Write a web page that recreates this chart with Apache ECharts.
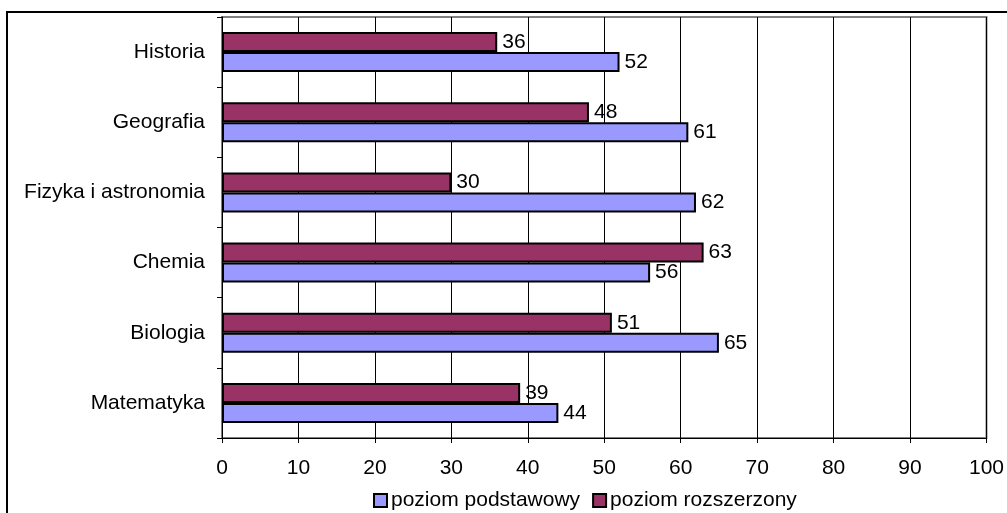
<!DOCTYPE html>
<html>
<head>
<meta charset="utf-8">
<script src="https://cdn.jsdelivr.net/npm/echarts@6/dist/echarts.min.js"></script>
<style>
html,body{margin:0;padding:0;background:#fff;}
#chart{width:1007px;height:513px;}
</style>
</head>
<body>
<div id="chart"></div>
<script>
const categories = ['Matematyka', 'Biologia', 'Chemia', 'Fizyka i astronomia', 'Geografia', 'Historia'];
const podstawowy = [44, 65, 56, 62, 61, 52];
const rozszerzony = [39, 51, 63, 30, 48, 36];
const xTicks = [0, 10, 20, 30, 40, 50, 60, 70, 80, 90, 100];
const seriesNames = ['poziom podstawowy', 'poziom rozszerzony'];

const FONT = "'Liberation Sans', Arial, sans-serif";
const chart = echarts.init(document.getElementById('chart'), null, {renderer: 'canvas'});

const labelStyle = {
  show: true, position: 'right', distance: 5,
  color: '#000', fontSize: 21, fontFamily: FONT
};

chart.setOption({
  animation: false,
  backgroundColor: '#fff',
  textStyle: {fontFamily: FONT},
  graphic: [{
    type: 'rect', z: 100,
    shape: {x: 7, y: 12, width: 1020, height: 530},
    style: {fill: 'none', stroke: '#000', lineWidth: 2}
  }],
  grid: {
    left: 222, right: 19, top: 17, bottom: 75,
    show: true, borderColor: '#808080', borderWidth: 2, backgroundColor: 'transparent'
  },
  legend: {
    data: seriesNames,
    left: 368, top: 485,
    itemWidth: 13, itemHeight: 13, itemGap: 12,
    icon: 'rect',
    itemStyle: {borderColor: '#000', borderWidth: 2},
    textStyle: {fontSize: 21, fontFamily: FONT, color: '#000', padding: [0, 0, 0, -1]}
  },
  xAxis: {
    type: 'value', min: xTicks[0], max: xTicks[xTicks.length - 1], interval: 10,
    axisLine: {show: true, lineStyle: {color: '#000', width: 1}},
    axisTick: {show: true, length: 5, lineStyle: {color: '#000'}},
    axisLabel: {
      color: '#000', fontSize: 21, fontFamily: FONT, margin: 20,
      formatter: v => xTicks.includes(v) ? String(v) : ''
    },
    splitLine: {show: true, lineStyle: {color: '#000', width: 1}}
  },
  yAxis: {
    type: 'category', data: categories,
    axisLine: {show: true, lineStyle: {color: '#000', width: 1}},
    axisTick: {show: true, length: 5, lineStyle: {color: '#000'}},
    axisLabel: {color: '#000', fontSize: 21, fontFamily: FONT, margin: 17},
    splitLine: {show: false}
  },
  series: [
    {
      name: seriesNames[1], type: 'bar', data: rozszerzony,
      barWidth: 20, barGap: '0%',
      itemStyle: {color: '#993366', borderColor: '#000', borderWidth: 2},
      label: labelStyle
    },
    {
      name: seriesNames[0], type: 'bar', data: podstawowy,
      barWidth: 20, barGap: '0%',
      itemStyle: {color: '#9999FF', borderColor: '#000', borderWidth: 2},
      label: labelStyle
    }
  ]
});
</script>
</body>
</html>
